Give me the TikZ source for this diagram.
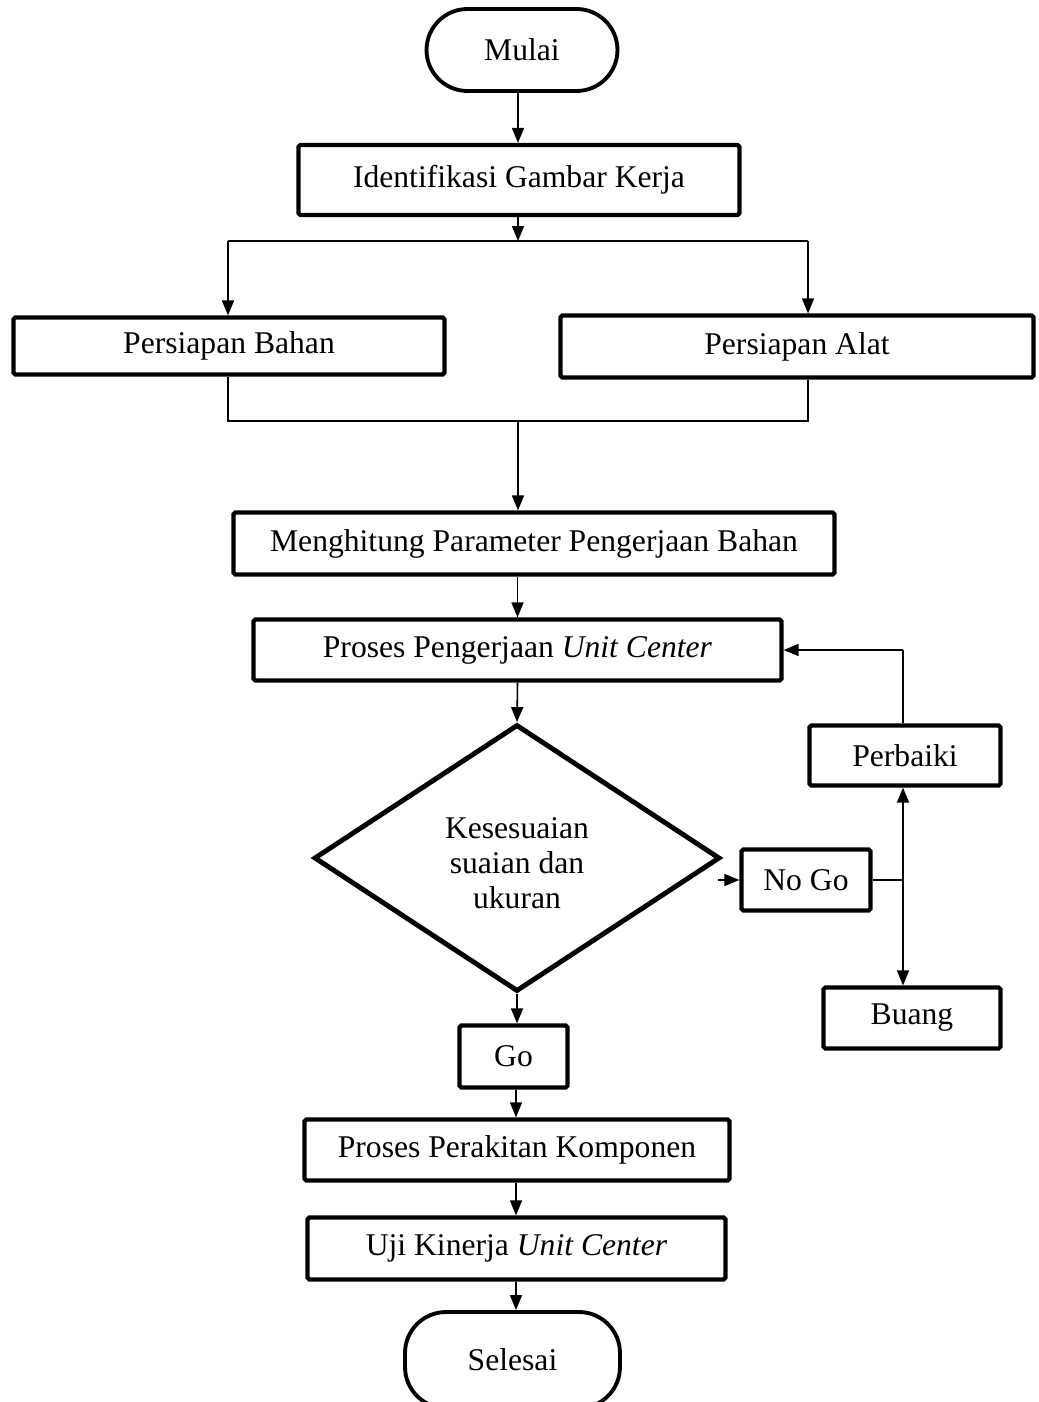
\documentclass[tikz,border=0pt]{standalone}
\usepackage{fontspec}
\setmainfont{Liberation Serif}
\usepackage{tikz}
\usetikzlibrary{shapes.geometric, arrows.meta, positioning, calc}

\begin{document}
\begin{tikzpicture}[x=0.02cm, y=-0.02cm,
  every node/.style={font=\fontsize{18}{20}\selectfont},
  kotak/.style={draw, line width=2.4pt, rounded corners=1pt, inner sep=2pt},
  terminal/.style={draw, line width=2.2pt, rounded corners=0.82cm, inner sep=2pt},
  keputusan/.style={draw, diamond, line width=2.8pt, inner sep=0pt,
                    align=center, minimum width=8.12cm, minimum height=5.34cm},
  garis/.style={line width=0.9pt},
  panah/.style={garis, -{Triangle[length=0.3cm, width=0.24cm]}}]

  \useasboundingbox (0,0) rectangle (1038,1402);

  % terminal dan proses
  \node[terminal, minimum width=3.82cm, minimum height=1.64cm] (mulai) at (522,50) {Mulai};
  \node[kotak, minimum width=8.82cm, minimum height=1.40cm] (ident) at (519,180) {Identifikasi Gambar Kerja};
  \node[kotak, minimum width=8.62cm, minimum height=1.14cm] (bahan) at (229,346) {Persiapan Bahan};
  \node[kotak, minimum width=9.46cm, minimum height=1.24cm] (alat) at (797,346.5) {Persiapan Alat};
  \node[kotak, minimum width=12.02cm, minimum height=1.24cm] (hitung) at (534,543.5)
    {Menghitung Parameter Pengerjaan Bahan};
  \node[kotak, minimum width=10.56cm, minimum height=1.22cm] (proses) at (517.5,650)
    {Proses Pengerjaan \textit{Unit Center}};
  \node[keputusan] (cek) at (517,858) {\\[-2pt]Kesesuaian\\suaian dan\\ukuran};
  \node[kotak, minimum width=3.82cm, minimum height=1.20cm] (perbaiki) at (905,755.5) {Perbaiki};
  \node[kotak, minimum width=2.58cm, minimum height=1.22cm] (nogo) at (806,880) {No Go};
  \node[kotak, minimum width=3.54cm, minimum height=1.22cm] (buang) at (912,1018) {Buang};
  \node[kotak, minimum width=2.16cm, minimum height=1.24cm] (go) at (513.5,1056.5) {Go};
  \node[kotak, minimum width=8.50cm, minimum height=1.22cm] (rakit) at (517,1150) {Proses Perakitan Komponen};
  \node[kotak, minimum width=8.36cm, minimum height=1.24cm] (uji) at (516.5,1248.5)
    {Uji Kinerja \textit{Unit Center}};
  \node[terminal, minimum width=4.30cm, minimum height=1.92cm] (selesai) at (512.5,1360) {Selesai};

  % titik cabang
  \coordinate (pisah) at (518,241);
  \coordinate (pisahkiri) at (228,241);
  \coordinate (pisahkanan) at (808,241);
  \coordinate (gabungkiri) at (228,421);
  \coordinate (gabungkanan) at (808,421);
  \coordinate (gabung) at (518,421);
  \coordinate (cekkanan) at (718,880);
  \coordinate (cabang) at (903,880);
  \coordinate (balik) at (903,650);

  % alur
  \draw[panah] (mulai.south -| 518,0) -- (ident.north -| 518,0);
  \draw[panah] (ident.south -| pisah) -- (pisah);
  \draw[garis] (pisahkiri) -- (pisahkanan);
  \draw[panah] (pisahkiri) -- (pisahkiri |- bahan.north);
  \draw[panah] (pisahkanan) -- (pisahkanan |- alat.north);
  \draw[garis] (gabungkiri |- bahan.south) -- (gabungkiri) -- (gabungkanan)
    -- (gabungkanan |- alat.south);
  \draw[panah] (gabung) -- (gabung |- hitung.north);
  \draw[panah] (proses.north |- hitung.south) -- (proses.north);
  \draw[panah] (proses.south) -- (cek.north);
  \draw[panah] (cek.south) -- (cek.south |- go.north);
  \draw[panah] (cekkanan) -- (nogo.west);
  \draw[garis] (nogo.east) -- (cabang);
  \draw[panah] (cabang) -- (cabang |- perbaiki.south);
  \draw[panah] (cabang) -- (cabang |- buang.north);
  \draw[garis] (cabang |- perbaiki.north) -- (balik);
  \draw[panah] (balik) -- (proses.east);
  \draw[panah] (go.south -| 516,0) -- (rakit.north -| 516,0);
  \draw[panah] (rakit.south -| 516,0) -- (uji.north -| 516,0);
  \draw[panah] (uji.south -| 516,0) -- (selesai.north -| 516,0);
\end{tikzpicture}
\end{document}
